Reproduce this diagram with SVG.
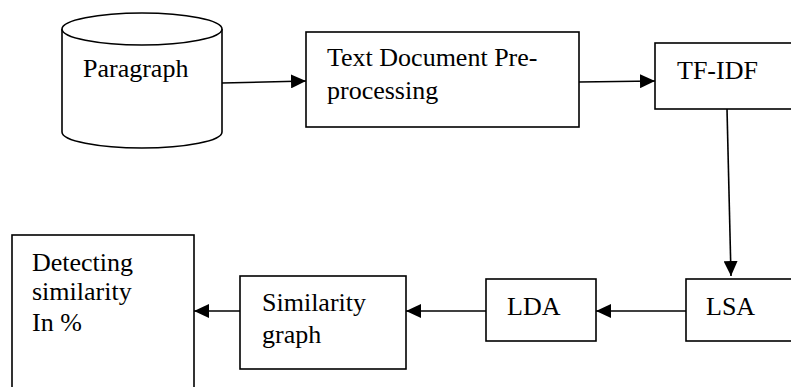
<svg xmlns="http://www.w3.org/2000/svg" width="791" height="387" viewBox="0 0 791 387">
  <style>
    .box { fill: #ffffff; stroke: #000000; stroke-width: 1.6; }
    .lbl { font-family: "Liberation Serif", "Times New Roman", serif; font-size: 26px; fill: #000000; }
    .edge { fill: none; stroke: #000000; stroke-width: 1.6; }
  </style>
  <defs>
    <marker id="arrow" markerUnits="userSpaceOnUse" markerWidth="16" markerHeight="14" refX="15" refY="7" orient="auto">
      <path d="M0,0 L15,7 L0,14 z" fill="#000000"/>
    </marker>
  </defs>
  <rect width="791" height="387" fill="#ffffff"/>

  <g id="paragraph">
    <path class="box" d="M62,29 L62,132 A80,16 0 0 0 222,132 L222,29 A80,16 0 0 0 62,29 Z"/>
    <path class="box" d="M62,29 A80,16 0 0 0 222,29" fill="none"/>
    <text class="lbl" x="83" y="77">Paragraph</text>
  </g>

  <g id="preprocessing">
    <rect class="box" x="306" y="32" width="273" height="95"/>
    <text class="lbl" x="327" y="66">Text Document Pre-</text>
    <text class="lbl" x="327" y="99">processing</text>
  </g>

  <g id="tfidf">
    <rect class="box" x="655" y="43" width="140" height="66"/>
    <text class="lbl" x="677" y="79">TF-IDF</text>
  </g>

  <g id="lsa">
    <rect class="box" x="686" y="279" width="110" height="62"/>
    <text class="lbl" x="706" y="315">LSA</text>
  </g>

  <g id="lda">
    <rect class="box" x="486" y="279" width="110" height="62"/>
    <text class="lbl" x="507" y="315">LDA</text>
  </g>

  <g id="similarity-graph">
    <rect class="box" x="240" y="276" width="166" height="93"/>
    <text class="lbl" x="262" y="311">Similarity</text>
    <text class="lbl" x="262" y="343">graph</text>
  </g>

  <g id="detecting">
    <rect class="box" x="12" y="235" width="182" height="160"/>
    <text class="lbl" x="32" y="271">Detecting</text>
    <text class="lbl" x="32" y="300">similarity</text>
    <text class="lbl" x="32" y="331">In %</text>
  </g>

  <g id="connectors">
    <line class="edge" x1="222" y1="83" x2="306" y2="81" marker-end="url(#arrow)"/>
    <line class="edge" x1="579" y1="82" x2="655" y2="81" marker-end="url(#arrow)"/>
    <line class="edge" x1="727" y1="109" x2="731" y2="276" marker-end="url(#arrow)"/>
    <line class="edge" x1="686" y1="311" x2="596" y2="311" marker-end="url(#arrow)"/>
    <line class="edge" x1="486" y1="311" x2="406" y2="311" marker-end="url(#arrow)"/>
    <line class="edge" x1="240" y1="311" x2="194" y2="311" marker-end="url(#arrow)"/>
  </g>
</svg>
